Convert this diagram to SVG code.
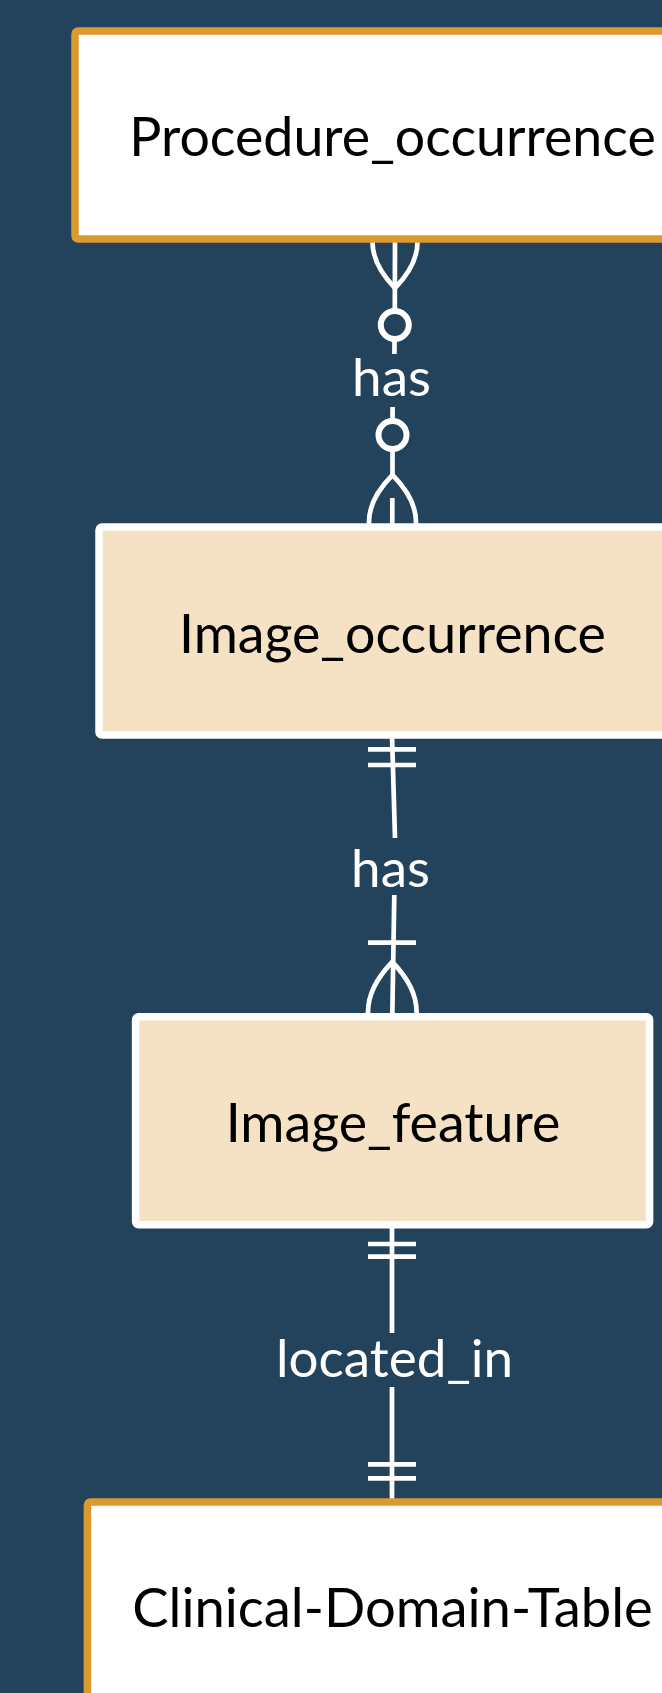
<svg xmlns="http://www.w3.org/2000/svg" width="662" height="1693" viewBox="0 0 662 1693">
  <style>
    .bg { fill: #22435b; }
    .entity-main rect { fill: #ffffff; stroke: #dc9a2e; stroke-width: 7.5; }
    .entity-img rect { fill: #f5e2c4; stroke: #ffffff; stroke-width: 7.5; }
    .entity-name { font-family: Lato, "Open Sans", sans-serif; font-size: 53.7px; fill: #000000; text-anchor: middle; }
    .rel { fill: none; stroke: #ffffff; stroke-width: 4.7; }
    .rel-ring { fill: none; stroke: #ffffff; stroke-width: 6; }
    .rel-label { font-family: Lato, "Open Sans", sans-serif; font-size: 53px; fill: #ffffff; text-anchor: middle; }
  </style>

  <rect class="bg" x="0" y="0" width="662" height="1693"/>

  <!-- relationships, drawn beneath the entity boxes -->
  <g id="connectors">
    <!-- Procedure_occurrence (zero or more) has Image_occurrence (zero or more) -->
    <g id="rel-has-1">
      <path class="rel" d="M372.5,238 L372.5,242 Q372.5,265 395,288 Q417.5,265 417.5,242 L417.5,238"/>
      <path class="rel" d="M395,238 L394.8,311"/>
      <circle class="rel-ring" cx="394.8" cy="325" r="14"/>
      <path class="rel" d="M394.6,339 L394.4,354"/>
      <text class="rel-label" x="391.5" y="396">has</text>
      <path class="rel" d="M392.6,407 L392.5,421"/>
      <circle class="rel-ring" cx="392.5" cy="435" r="14"/>
      <path class="rel" d="M392.5,449 L392.5,475"/>
      <path class="rel" d="M369,526 L369,522 Q369,498.5 392.5,475 Q416,498.5 416,522 L416,526"/>
      <path class="rel" d="M392.3,498 L392.3,526"/>
    </g>
    <!-- Image_occurrence (exactly one) has Image_feature (one or more) -->
    <g id="rel-has-2">
      <path class="rel" d="M392,735 L395,838"/>
      <path class="rel" d="M368,749.3 H416 M368,765 H416"/>
      <text class="rel-label" x="390.5" y="887">has</text>
      <path class="rel" d="M394.3,895 L392.3,1016"/>
      <path class="rel" d="M368,942.7 H416"/>
      <path class="rel" d="M368,1016 L368,1012 Q368,987 392.3,962 Q416.6,987 416.6,1012 L416.6,1016"/>
    </g>
    <!-- Image_feature (exactly one) located_in Clinical-Domain-Table (exactly one) -->
    <g id="rel-located-in">
      <path class="rel" d="M392,1225 L392,1333"/>
      <path class="rel" d="M368,1244 H416 M368,1256.7 H416"/>
      <text class="rel-label" x="394.5" y="1377">located_in</text>
      <path class="rel" d="M392,1387 L392,1502"/>
      <path class="rel" d="M368,1464.3 H416 M368,1478.3 H416"/>
    </g>
  </g>

  <g id="procedure-occurrence" class="entity-main">
    <rect x="75" y="31" width="638" height="208" rx="3"/>
    <text class="entity-name" x="392.5" y="156">Procedure_occurrence</text>
  </g>

  <g id="image-occurrence" class="entity-img">
    <rect x="99" y="527" width="590" height="208" rx="3"/>
    <text class="entity-name" x="392.5" y="653">Image_occurrence</text>
  </g>

  <g id="image-feature" class="entity-img">
    <rect x="135.6" y="1016.7" width="514" height="208" rx="3"/>
    <text class="entity-name" x="393" y="1142">Image_feature</text>
  </g>

  <g id="clinical-domain-table" class="entity-main">
    <rect x="87.4" y="1502" width="611" height="208" rx="3"/>
    <text class="entity-name" x="392.5" y="1627" style="font-size:54.4px">Clinical-Domain-Table</text>
  </g>
</svg>
